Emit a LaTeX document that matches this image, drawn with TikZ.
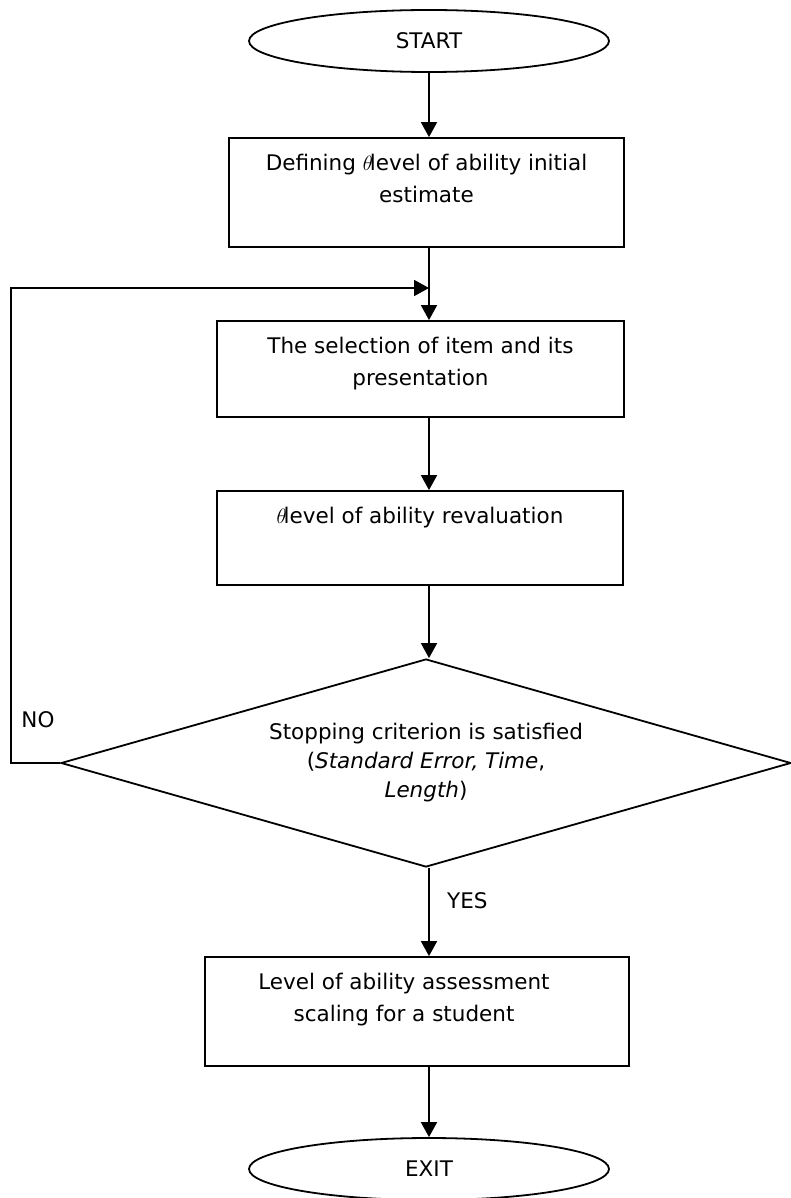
\documentclass[tikz,border=0pt]{standalone}
\usepackage{fontspec}
\setmainfont{DejaVu Sans}
\usetikzlibrary{shapes.geometric,arrows.meta,positioning}
% text block sitting in the upper part of a box: [right pad]{width}{height}{text}
\newcommand{\boxtext}[4][0pt]{\parbox[c][#3][t]{#2}{\centering\rightskip=#1 plus 1fil\vspace*{16pt}#4}}

\begin{document}
\begin{tikzpicture}[x=1pt,y=-1pt]
\tikzstyle{every node}=[font=\fontsize{21.5}{32}\selectfont]
\tikzstyle{term}=[ellipse,draw,line width=1.8pt,minimum width=360pt,minimum height=62pt,inner sep=0pt]
\tikzstyle{box}=[rectangle,draw,line width=1.8pt,inner sep=0pt]
\tikzstyle{decision}=[diamond,draw,line width=1.8pt,aspect=3.5,minimum width=730pt,minimum height=208pt,inner sep=0pt,align=center,font=\fontsize{21.5}{29}\selectfont]
\tikzstyle{arrow}=[line width=1.8pt,-{Triangle[length=15pt,width=16pt]}]
\useasboundingbox (0,0) rectangle (791,1198);
% ========= blocks
\node (start) [term] at (429,41) {START};
\node (define) [box] at (426.5,192.5) {\boxtext{395pt}{109pt}{Defining $\theta$\kern-3pt level of ability initial\\estimate}};
\node (select) [box] at (420.5,369) {\boxtext{407pt}{96pt}{The selection of item and its\\presentation}};
\node (revalue) [box] at (420,538) {\boxtext{406pt}{94pt}{$\theta$\kern-3pt level of ability revaluation}};
\node (dec) [decision] at (426,763) {Stopping criterion is satisfied\\(\textit{Standard Error, Time},\\\textit{Length})};
\node (assess) [box] at (417,1011.5) {\boxtext[26pt]{424pt}{109pt}{Level of ability assessment\\scaling for a student}};
\node (exit) [term] at (429,1169) {EXIT};
\coordinate (merge) at (429,288);
% ====== connections
\draw [arrow] (start) -- (start |- define.north);
\draw [arrow] (define.south -| start) -- (select.north -| start);
\draw [arrow] (select.south -| start) -- (revalue.north -| start);
\draw [arrow] (revalue.south -| start) -- (dec.north -| start);
\draw [arrow] (dec.south -| start) -- node [right=14pt,pos=0.37] (yes) {YES} (assess.north -| start);
\draw [arrow] (assess.south -| exit) -- (exit);
%% ===== loop back
\draw [arrow] (dec.west) -- ++(-49,0) |- (merge);
\node (no) at (38,720) {NO};
\end{tikzpicture}
\end{document}
